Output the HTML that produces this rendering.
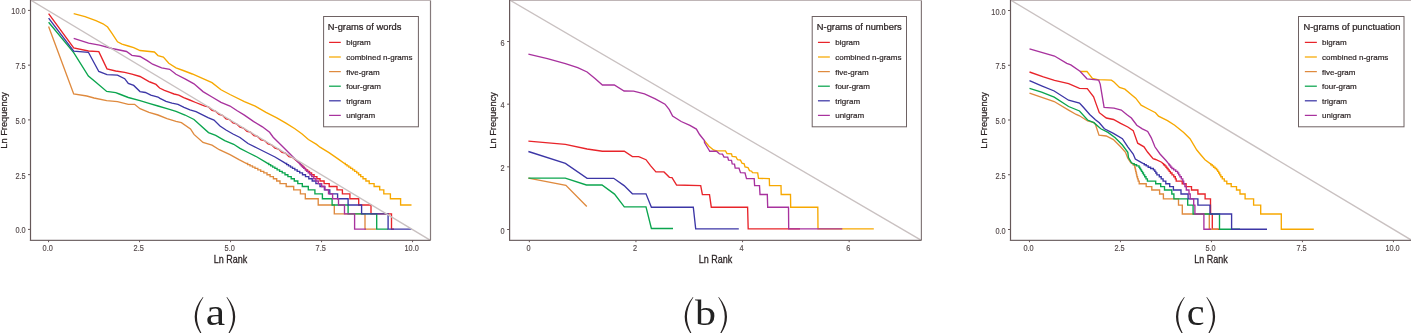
<!DOCTYPE html>
<html><head><meta charset="utf-8"><style>
html,body{margin:0;padding:0;background:#fff;width:1411px;height:333px;overflow:hidden}
svg{display:block;will-change:transform}
text{font-family:"Liberation Sans",sans-serif}
.tk{font-size:8px;fill:#554a4b;stroke:#554a4b;stroke-width:0.15px}
.at{font-size:9px;fill:#2e2627;stroke:#2e2627;stroke-width:0.25px}
.lt{font-size:9px;fill:#2e2627;stroke:#2e2627;stroke-width:0.25px}
.li{font-size:8px;fill:#2e2627;stroke:#2e2627;stroke-width:0.2px}
.cap{font-family:"Liberation Serif",serif;font-size:40px;fill:#222;}
</style></head><body>
<svg width="1411" height="333" viewBox="0 0 1411 333">
<polyline points="48.6,13.7 73.7,48.0 88.4,51.0 98.8,51.7 107.0,68.8 115.7,71.0 124.7,72.4 131.9,74.2 140.0,76.5 149.0,81.7 150.0,82.0 156.0,84.4 159.6,88.0 164.4,90.4 169.2,92.2 174.0,94.0 178.8,95.2 183.7,97.6 189.7,100.0 195.7,102.5 201.7,104.9 205.0,106.1 208.5,106.9 212.0,110.3 215.5,111.2 219.0,114.5 222.5,115.3 226.0,118.8 229.5,119.6 233.0,123.0 236.5,123.8 240.0,127.2 243.5,128.0 247.0,131.4 250.5,132.2 254.0,135.6 257.5,136.4 261.0,139.8 264.5,140.6 268.0,144.0 271.5,144.8 275.0,148.2 278.5,149.0 282.0,152.4 285.5,153.2 289.0,156.6 292.5,157.4 299.0,162.6 299.9,163.5 300.5,163.5 300.5,164.6 301.7,164.6 301.7,165.8 302.9,165.8 302.9,167.1 304.2,167.1 304.2,168.4 305.7,168.4 305.7,169.8 307.6,169.8 307.6,171.3 309.5,171.3 309.5,172.9 311.6,172.9 311.6,174.7 314.1,174.7 314.1,176.6 316.9,176.6 316.9,178.7 320.0,178.7 320.0,181.0 324.1,181.0 324.1,183.6 329.2,183.6 329.2,186.5 337.0,186.5 337.0,189.9 342.4,189.9 342.4,193.9 349.9,193.9 349.9,198.7 358.7,198.7 358.7,205.0 371.0,205.0 371.0,213.9 391.5,213.9 391.5,229.1 394.0,229.1" fill="none" stroke="#e8242a" stroke-width="1.35" stroke-linejoin="miter" stroke-linecap="butt"/>
<polyline points="73.7,13.7 85.0,16.6 95.9,20.7 103.0,23.8 107.6,27.0 112.0,33.3 117.5,41.8 122.0,44.1 128.3,46.0 133.7,47.7 140.0,50.5 154.4,52.0 158.0,55.6 163.4,57.0 168.8,63.3 176.0,67.8 183.2,70.5 192.3,74.0 201.3,77.8 212.0,82.6 221.0,89.8 230.0,94.5 244.4,101.6 255.2,106.1 266.0,112.4 276.8,117.8 285.9,123.2 294.9,128.8 302.1,134.0 308.4,139.5 316.5,144.4 320.0,147.2 329.0,152.6 338.0,158.9 344.6,163.5 345.4,163.5 345.4,164.6 347.0,164.6 347.0,165.8 348.8,165.8 348.8,167.1 350.6,167.1 350.6,168.4 352.6,168.4 352.6,169.8 354.6,169.8 354.6,171.3 356.7,171.3 356.7,172.9 358.6,172.9 358.6,174.7 360.7,174.7 360.7,176.6 363.0,176.6 363.0,178.7 365.9,178.7 365.9,181.0 369.2,181.0 369.2,183.6 374.1,183.6 374.1,186.5 379.7,186.5 379.7,189.9 383.8,189.9 383.8,193.9 390.4,193.9 390.4,198.7 400.6,198.7 400.6,205.0 411.5,205.0" fill="none" stroke="#f7a800" stroke-width="1.35" stroke-linejoin="miter" stroke-linecap="butt"/>
<polyline points="48.6,26.5 73.7,94.0 86.8,96.0 94.0,98.0 106.7,100.7 117.5,101.6 128.3,104.3 134.6,104.3 140.0,108.7 149.0,112.3 158.0,115.0 167.0,118.6 176.0,121.4 181.4,122.7 190.5,129.0 194.0,134.4 203.0,142.5 212.0,145.2 219.3,149.7 230.0,154.7 239.0,159.7 246.6,163.5 247.7,163.5 247.7,164.6 250.0,164.6 250.0,165.8 252.5,165.8 252.5,167.1 255.0,167.1 255.0,168.4 257.8,168.4 257.8,169.8 260.7,169.8 260.7,171.3 263.8,171.3 263.8,172.9 267.0,172.9 267.0,174.7 270.1,174.7 270.1,176.6 273.4,176.6 273.4,178.7 276.7,178.7 276.7,181.0 280.0,181.0 280.0,183.6 286.2,183.6 286.2,186.5 293.7,186.5 293.7,189.9 300.4,189.9 300.4,193.9 305.3,193.9 305.3,198.7 318.2,198.7 318.2,205.0 334.3,205.0 334.3,213.9 365.0,213.9 365.0,229.1 376.3,229.1" fill="none" stroke="#df8a3e" stroke-width="1.35" stroke-linejoin="miter" stroke-linecap="butt"/>
<polyline points="48.6,22.3 73.7,52.6 88.4,76.0 95.9,82.3 106.7,91.4 115.7,92.6 119.3,94.0 128.3,97.5 140.0,100.6 149.0,103.3 158.0,106.0 167.0,108.7 176.0,111.4 185.0,115.0 194.0,119.5 199.5,124.5 208.5,132.6 215.7,135.3 224.7,140.7 233.7,144.3 240.0,148.4 248.0,152.5 257.0,157.0 266.0,162.4 267.8,163.5 268.8,163.5 268.8,164.6 270.7,164.6 270.7,165.8 272.7,165.8 272.7,167.1 274.9,167.1 274.9,168.4 277.1,168.4 277.1,169.8 279.6,169.8 279.6,171.3 282.2,171.3 282.2,172.9 285.0,172.9 285.0,174.7 287.9,174.7 287.9,176.6 291.2,176.6 291.2,178.7 294.3,178.7 294.3,181.0 297.8,181.0 297.8,183.6 302.3,183.6 302.3,186.5 308.3,186.5 308.3,189.9 314.9,189.9 314.9,193.9 322.4,193.9 322.4,198.7 332.1,198.7 332.1,205.0 348.1,205.0 348.1,213.9 376.7,213.9 376.7,229.1 388.0,229.1" fill="none" stroke="#0ba54e" stroke-width="1.35" stroke-linejoin="miter" stroke-linecap="butt"/>
<polyline points="48.6,18.2 73.7,51.2 88.4,52.3 98.8,71.5 107.0,74.6 117.5,75.1 124.7,78.7 128.3,83.5 133.7,85.4 140.0,91.6 145.4,92.5 150.8,95.2 158.0,97.0 160.0,98.4 166.0,101.4 172.0,103.2 178.0,104.4 184.0,107.4 190.0,109.8 196.0,111.6 202.0,114.6 208.0,117.6 214.0,120.0 220.0,126.0 226.0,130.0 233.0,134.0 240.0,137.5 248.0,143.5 257.0,148.0 266.0,152.5 275.0,157.0 284.0,162.4 285.8,163.5 286.7,163.5 286.7,164.6 288.5,164.6 288.5,165.8 290.5,165.8 290.5,167.1 292.5,167.1 292.5,168.4 294.8,168.4 294.8,169.8 297.2,169.8 297.2,171.3 299.7,171.3 299.7,172.9 302.5,172.9 302.5,174.7 305.5,174.7 305.5,176.6 308.8,176.6 308.8,178.7 312.2,178.7 312.2,181.0 315.9,181.0 315.9,183.6 320.0,183.6 320.0,186.5 324.4,186.5 324.4,189.9 329.8,189.9 329.8,193.9 337.6,193.9 337.6,198.7 348.1,198.7 348.1,205.0 361.6,205.0 361.6,213.9 388.1,213.9 388.1,229.1 411.5,229.1" fill="none" stroke="#3c36a6" stroke-width="1.35" stroke-linejoin="miter" stroke-linecap="butt"/>
<polyline points="73.7,38.3 88.6,43.2 99.5,45.2 112.0,48.5 126.5,51.5 131.9,55.3 140.0,56.5 147.2,60.6 152.6,64.2 161.6,67.8 169.7,69.3 176.0,74.3 185.0,78.8 194.0,83.8 203.0,91.6 212.0,97.0 221.0,102.4 230.0,106.0 237.2,110.8 244.4,115.1 253.4,121.4 262.4,126.8 269.6,132.3 273.2,137.2 282.3,146.2 291.3,155.2 298.5,162.4 299.6,163.5 300.2,163.5 300.2,164.6 301.3,164.6 301.3,165.8 302.5,165.8 302.5,167.1 303.8,167.1 303.8,168.4 305.2,168.4 305.2,169.8 306.6,169.8 306.6,171.3 308.2,171.3 308.2,172.9 309.9,172.9 309.9,174.7 311.7,174.7 311.7,176.6 313.7,176.6 313.7,178.7 315.9,178.7 315.9,181.0 318.3,181.0 318.3,183.6 321.7,183.6 321.7,186.5 325.0,186.5 325.0,189.9 328.5,189.9 328.5,193.9 332.6,193.9 332.6,198.7 338.5,198.7 338.5,205.0 344.5,205.0 344.5,213.9 354.6,213.9 354.6,229.1 366.0,229.1" fill="none" stroke="#a8329e" stroke-width="1.35" stroke-linejoin="miter" stroke-linecap="butt"/>
<line x1="30.5" y1="0.0" x2="430.5" y2="240.3" stroke="#c9c1c1" stroke-width="1.4"/>
<line x1="30.5" y1="0.5" x2="430.5" y2="0.5" stroke="#bfb5b6" stroke-width="1"/>
<line x1="430.5" y1="0.5" x2="430.5" y2="240.3" stroke="#857a7b" stroke-width="1.2"/>
<line x1="30.5" y1="0.0" x2="30.5" y2="240.9" stroke="#665859" stroke-width="1.2"/>
<line x1="29.9" y1="240.3" x2="430.5" y2="240.3" stroke="#756a6b" stroke-width="1.2"/>
<line x1="28.0" y1="229.40" x2="30.5" y2="229.40" stroke="#665859" stroke-width="1"/>
<text transform="translate(25.60,233.40) scale(0.92,1.16)" text-anchor="end" class="tk">0.0</text>
<line x1="48.55" y1="240.3" x2="48.55" y2="242.20000000000002" stroke="#665859" stroke-width="1"/>
<text transform="translate(47.65,250.80) scale(0.92,1.16)" text-anchor="middle" class="tk">0.0</text>
<line x1="28.0" y1="174.65" x2="30.5" y2="174.65" stroke="#665859" stroke-width="1"/>
<text transform="translate(25.60,178.65) scale(0.92,1.16)" text-anchor="end" class="tk">2.5</text>
<line x1="139.55" y1="240.3" x2="139.55" y2="242.20000000000002" stroke="#665859" stroke-width="1"/>
<text transform="translate(138.65,250.80) scale(0.92,1.16)" text-anchor="middle" class="tk">2.5</text>
<line x1="28.0" y1="119.90" x2="30.5" y2="119.90" stroke="#665859" stroke-width="1"/>
<text transform="translate(25.60,123.90) scale(0.92,1.16)" text-anchor="end" class="tk">5.0</text>
<line x1="230.55" y1="240.3" x2="230.55" y2="242.20000000000002" stroke="#665859" stroke-width="1"/>
<text transform="translate(229.65,250.80) scale(0.92,1.16)" text-anchor="middle" class="tk">5.0</text>
<line x1="28.0" y1="65.15" x2="30.5" y2="65.15" stroke="#665859" stroke-width="1"/>
<text transform="translate(25.60,69.15) scale(0.92,1.16)" text-anchor="end" class="tk">7.5</text>
<line x1="321.55" y1="240.3" x2="321.55" y2="242.20000000000002" stroke="#665859" stroke-width="1"/>
<text transform="translate(320.65,250.80) scale(0.92,1.16)" text-anchor="middle" class="tk">7.5</text>
<line x1="28.0" y1="10.40" x2="30.5" y2="10.40" stroke="#665859" stroke-width="1"/>
<text transform="translate(25.60,14.40) scale(0.92,1.16)" text-anchor="end" class="tk">10.0</text>
<line x1="412.55" y1="240.3" x2="412.55" y2="242.20000000000002" stroke="#665859" stroke-width="1"/>
<text transform="translate(411.65,250.80) scale(0.92,1.16)" text-anchor="middle" class="tk">10.0</text>
<text transform="translate(230.50,262.50) scale(1.0,1.17)" text-anchor="middle" class="at">Ln Rank</text>
<text transform="translate(7.30,120.40) rotate(-90) scale(1.03,0.96)" text-anchor="middle" class="at">Ln Frequency</text>
<rect x="323.6" y="16.5" width="94.8" height="110.3" fill="#fff" stroke="#6e6263" stroke-width="1"/>
<text transform="translate(327.80,30.00) scale(1.037,1.0)" class="lt">N-grams of words</text>
<line x1="329.05" y1="42.4" x2="340.80" y2="42.4" stroke="#e8242a" stroke-width="1.25"/>
<text transform="translate(346.20,45.30)" class="li">bigram</text>
<line x1="329.05" y1="57.0" x2="340.80" y2="57.0" stroke="#f7a800" stroke-width="1.25"/>
<text transform="translate(346.20,59.90)" class="li">combined n-grams</text>
<line x1="329.05" y1="71.6" x2="340.80" y2="71.6" stroke="#df8a3e" stroke-width="1.25"/>
<text transform="translate(346.20,74.50)" class="li">five-gram</text>
<line x1="329.05" y1="86.2" x2="340.80" y2="86.2" stroke="#0ba54e" stroke-width="1.25"/>
<text transform="translate(346.20,89.10)" class="li">four-gram</text>
<line x1="329.05" y1="100.8" x2="340.80" y2="100.8" stroke="#3c36a6" stroke-width="1.25"/>
<text transform="translate(346.20,103.70)" class="li">trigram</text>
<line x1="329.05" y1="115.4" x2="340.80" y2="115.4" stroke="#a8329e" stroke-width="1.25"/>
<text transform="translate(346.20,118.30)" class="li">unigram</text>
<polyline points="528.4,141.2 565.4,144.3 587.1,149.0 602.4,151.2 624.3,151.2 632.4,156.6 638.7,156.6 646.0,159.7 650.5,165.6 655.9,171.9 664.0,171.9 669.4,177.3 672.0,177.7 676.6,185.0 700.7,185.6 702.4,194.6 709.5,194.6 711.3,207.2 747.6,207.2 748.2,228.9 800.0,228.9" fill="none" stroke="#e8242a" stroke-width="1.35" stroke-linejoin="miter" stroke-linecap="butt"/>
<polyline points="704.4,140.6 709.0,146.2 713.5,150.0 716.5,150.9 725.5,150.9 727.0,153.5 731.5,153.9 732.2,156.5 736.0,156.9 737.5,159.7 740.5,160.1 742.0,163.2 744.2,163.8 745.0,167.0 748.0,167.5 749.5,170.6 751.7,171.2 752.5,172.7 757.7,172.9 758.5,178.3 769.3,178.6 769.5,185.6 781.0,185.6 781.2,194.5 790.5,194.5 790.7,207.2 817.8,207.2 818.0,228.9 873.8,228.9" fill="none" stroke="#f7a800" stroke-width="1.35" stroke-linejoin="miter" stroke-linecap="butt"/>
<polyline points="528.4,178.1 565.9,185.3 586.8,206.5" fill="none" stroke="#df8a3e" stroke-width="1.35" stroke-linejoin="miter" stroke-linecap="butt"/>
<polyline points="528.4,178.1 565.3,178.1 586.4,185.0 602.0,185.0 614.5,194.1 624.3,206.8 646.0,206.8 651.4,228.5 673.0,228.5" fill="none" stroke="#0ba54e" stroke-width="1.35" stroke-linejoin="miter" stroke-linecap="butt"/>
<polyline points="528.4,151.5 565.4,163.4 587.1,178.3 613.7,178.3 624.1,185.6 632.4,193.8 646.0,193.8 651.4,207.2 693.3,207.2 695.7,228.9 738.8,228.9" fill="none" stroke="#3c36a6" stroke-width="1.35" stroke-linejoin="miter" stroke-linecap="butt"/>
<polyline points="528.4,54.1 547.4,58.6 565.4,63.6 577.7,67.7 587.1,72.0 595.0,78.5 602.4,85.0 614.3,85.0 624.1,91.0 633.6,91.2 644.5,93.8 655.3,98.8 665.0,104.2 669.3,109.6 672.6,116.1 681.2,121.5 689.9,125.4 696.4,129.1 699.6,134.5 704.4,140.6 704.5,142.5 709.0,150.0 709.7,151.2 716.5,151.2 719.5,153.9 722.5,154.2 724.0,157.0 727.7,157.2 728.5,160.2 731.5,160.4 732.2,163.9 734.5,164.1 735.2,168.0 739.0,168.2 740.5,172.6 745.0,172.8 746.5,178.6 754.2,178.6 754.6,185.6 759.5,185.6 760.0,194.5 767.3,194.5 767.7,207.2 788.5,207.2 788.7,228.9 842.3,228.9" fill="none" stroke="#a8329e" stroke-width="1.35" stroke-linejoin="miter" stroke-linecap="butt"/>
<line x1="509.6" y1="0.0" x2="921.4" y2="240.3" stroke="#c9c1c1" stroke-width="1.4"/>
<line x1="509.6" y1="0.5" x2="921.4" y2="0.5" stroke="#bfb5b6" stroke-width="1"/>
<line x1="921.4" y1="0.5" x2="921.4" y2="240.3" stroke="#857a7b" stroke-width="1.2"/>
<line x1="509.6" y1="0.0" x2="509.6" y2="240.9" stroke="#665859" stroke-width="1.2"/>
<line x1="509.0" y1="240.3" x2="921.4" y2="240.3" stroke="#756a6b" stroke-width="1.2"/>
<line x1="507.1" y1="229.50" x2="509.6" y2="229.50" stroke="#665859" stroke-width="1"/>
<text transform="translate(504.70,233.50) scale(0.92,1.16)" text-anchor="end" class="tk">0</text>
<line x1="529.35" y1="240.3" x2="529.35" y2="242.20000000000002" stroke="#665859" stroke-width="1"/>
<text transform="translate(528.45,250.80) scale(0.92,1.16)" text-anchor="middle" class="tk">0</text>
<line x1="507.1" y1="166.84" x2="509.6" y2="166.84" stroke="#665859" stroke-width="1"/>
<text transform="translate(504.70,170.84) scale(0.92,1.16)" text-anchor="end" class="tk">2</text>
<line x1="635.95" y1="240.3" x2="635.95" y2="242.20000000000002" stroke="#665859" stroke-width="1"/>
<text transform="translate(635.05,250.80) scale(0.92,1.16)" text-anchor="middle" class="tk">2</text>
<line x1="507.1" y1="104.18" x2="509.6" y2="104.18" stroke="#665859" stroke-width="1"/>
<text transform="translate(504.70,108.18) scale(0.92,1.16)" text-anchor="end" class="tk">4</text>
<line x1="742.55" y1="240.3" x2="742.55" y2="242.20000000000002" stroke="#665859" stroke-width="1"/>
<text transform="translate(741.65,250.80) scale(0.92,1.16)" text-anchor="middle" class="tk">4</text>
<line x1="507.1" y1="41.52" x2="509.6" y2="41.52" stroke="#665859" stroke-width="1"/>
<text transform="translate(504.70,45.52) scale(0.92,1.16)" text-anchor="end" class="tk">6</text>
<line x1="849.15" y1="240.3" x2="849.15" y2="242.20000000000002" stroke="#665859" stroke-width="1"/>
<text transform="translate(848.25,250.80) scale(0.92,1.16)" text-anchor="middle" class="tk">6</text>
<text transform="translate(715.50,262.50) scale(1.0,1.17)" text-anchor="middle" class="at">Ln Rank</text>
<text transform="translate(495.50,120.40) rotate(-90) scale(1.03,0.96)" text-anchor="middle" class="at">Ln Frequency</text>
<rect x="812.2" y="16.5" width="94.3" height="110.3" fill="#fff" stroke="#6e6263" stroke-width="1"/>
<text transform="translate(816.80,30.00) scale(1.037,1.0)" class="lt">N-grams of numbers</text>
<line x1="817.95" y1="42.4" x2="829.85" y2="42.4" stroke="#e8242a" stroke-width="1.25"/>
<text transform="translate(835.20,45.30)" class="li">bigram</text>
<line x1="817.95" y1="57.0" x2="829.85" y2="57.0" stroke="#f7a800" stroke-width="1.25"/>
<text transform="translate(835.20,59.90)" class="li">combined n-grams</text>
<line x1="817.95" y1="71.6" x2="829.85" y2="71.6" stroke="#df8a3e" stroke-width="1.25"/>
<text transform="translate(835.20,74.50)" class="li">five-gram</text>
<line x1="817.95" y1="86.2" x2="829.85" y2="86.2" stroke="#0ba54e" stroke-width="1.25"/>
<text transform="translate(835.20,89.10)" class="li">four-gram</text>
<line x1="817.95" y1="100.8" x2="829.85" y2="100.8" stroke="#3c36a6" stroke-width="1.25"/>
<text transform="translate(835.20,103.70)" class="li">trigram</text>
<line x1="817.95" y1="115.4" x2="829.85" y2="115.4" stroke="#a8329e" stroke-width="1.25"/>
<text transform="translate(835.20,118.30)" class="li">unigram</text>
<polyline points="1029.5,72.0 1043.4,76.8 1054.5,80.3 1068.6,83.7 1079.5,88.4 1087.3,88.6 1093.6,96.8 1096.0,103.6 1099.3,112.7 1106.3,118.0 1113.5,119.5 1120.6,123.4 1127.8,127.0 1133.2,130.6 1137.7,143.2 1144.0,146.8 1147.7,152.3 1153.1,158.6 1155.6,159.5 1161.6,162.2 1163.0,163.6 1163.6,163.6 1163.6,164.7 1164.8,164.7 1164.8,165.9 1166.0,165.9 1166.0,167.2 1167.0,167.2 1167.0,168.5 1168.1,168.5 1168.1,169.9 1169.2,169.9 1169.2,171.4 1170.4,171.4 1170.4,173.0 1172.0,173.0 1172.0,174.8 1173.8,174.8 1173.8,176.7 1175.3,176.7 1175.3,178.8 1176.2,178.8 1176.2,181.1 1182.2,181.1 1182.2,183.7 1186.1,183.7 1186.1,186.6 1191.5,186.6 1191.5,190.0 1197.9,190.0 1197.9,194.0 1205.1,194.0 1205.1,198.8 1210.5,198.8 1210.5,205.1 1210.6,205.1 1210.6,214.0 1212.3,214.0 1212.3,229.2 1220.0,229.2" fill="none" stroke="#e8242a" stroke-width="1.35" stroke-linejoin="miter" stroke-linecap="butt"/>
<polyline points="1080.0,71.3 1081.3,71.5 1087.0,71.5 1092.4,78.4 1097.8,79.7 1111.4,80.2 1114.0,82.0 1119.5,87.4 1124.9,89.2 1130.3,93.7 1135.7,98.2 1141.1,105.2 1148.3,109.0 1155.5,112.7 1158.5,116.2 1167.5,120.7 1174.7,125.2 1183.7,132.4 1190.0,138.7 1196.8,150.0 1200.5,154.5 1205.0,159.8 1210.1,163.6 1210.8,163.6 1210.8,164.7 1212.2,164.7 1212.2,165.9 1213.6,165.9 1213.6,167.2 1215.1,167.2 1215.1,168.5 1216.6,168.5 1216.6,169.9 1217.7,169.9 1217.7,171.4 1218.7,171.4 1218.7,173.0 1219.7,173.0 1219.7,174.8 1220.8,174.8 1220.8,176.7 1222.3,176.7 1222.3,178.8 1224.3,178.8 1224.3,181.1 1226.8,181.1 1226.8,183.7 1231.2,183.7 1231.2,186.6 1236.5,186.6 1236.5,190.0 1240.0,190.0 1240.0,194.0 1245.1,194.0 1245.1,198.8 1253.6,198.8 1253.6,205.1 1260.7,205.1 1260.7,214.0 1281.3,214.0 1281.3,229.2 1313.8,229.2" fill="none" stroke="#f7a800" stroke-width="1.35" stroke-linejoin="miter" stroke-linecap="butt"/>
<polyline points="1029.5,93.2 1054.2,101.5 1068.6,110.1 1076.2,114.5 1079.5,115.8 1087.6,121.0 1093.9,122.7 1095.4,124.3 1099.0,135.1 1106.2,136.0 1113.4,139.6 1120.6,146.8 1125.5,152.3 1127.8,158.3 1130.8,162.8 1132.1,163.6 1133.1,163.6 1133.1,164.7 1134.6,164.7 1134.6,165.9 1134.8,165.9 1134.8,167.2 1135.1,167.2 1135.1,168.5 1135.4,168.5 1135.4,169.9 1135.7,169.9 1135.7,171.4 1136.1,171.4 1136.1,173.0 1136.5,173.0 1136.5,174.8 1136.9,174.8 1136.9,176.7 1137.5,176.7 1137.5,178.8 1138.2,178.8 1138.2,181.1 1139.2,181.1 1139.2,183.7 1146.2,183.7 1146.2,186.6 1151.8,186.6 1151.8,190.0 1159.6,190.0 1159.6,194.0 1163.4,194.0 1163.4,198.8 1178.5,198.8 1178.5,205.1 1182.3,205.1 1182.3,214.0 1209.3,214.0 1209.3,229.2 1218.3,229.2" fill="none" stroke="#df8a3e" stroke-width="1.35" stroke-linejoin="miter" stroke-linecap="butt"/>
<polyline points="1029.5,88.3 1041.6,92.1 1054.2,97.2 1068.6,106.5 1079.5,111.0 1087.6,120.0 1093.9,122.7 1100.8,128.8 1108.0,132.4 1115.2,137.8 1122.4,145.0 1127.8,152.3 1128.5,157.5 1131.5,162.8 1133.1,163.6 1134.2,163.6 1134.2,164.7 1136.6,164.7 1136.6,165.9 1139.0,165.9 1139.0,167.2 1139.8,167.2 1139.8,168.5 1140.6,168.5 1140.6,169.9 1141.5,169.9 1141.5,171.4 1142.5,171.4 1142.5,173.0 1143.5,173.0 1143.5,174.8 1144.7,174.8 1144.7,176.7 1146.0,176.7 1146.0,178.8 1147.4,178.8 1147.4,181.1 1155.7,181.1 1155.7,183.7 1160.7,183.7 1160.7,186.6 1164.5,186.6 1164.5,190.0 1171.8,190.0 1171.8,194.0 1173.9,194.0 1173.9,198.8 1187.7,198.8 1187.7,205.1 1193.1,205.1 1193.1,214.0 1219.5,214.0 1219.5,229.2 1240.0,229.2" fill="none" stroke="#0ba54e" stroke-width="1.35" stroke-linejoin="miter" stroke-linecap="butt"/>
<polyline points="1029.5,80.6 1041.6,85.8 1054.2,91.0 1068.6,100.2 1079.5,103.0 1083.4,107.3 1089.7,114.5 1095.4,119.8 1099.3,122.7 1104.4,128.8 1113.4,133.3 1122.4,138.7 1127.8,146.8 1133.2,154.1 1135.3,159.0 1142.0,162.8 1143.3,163.6 1144.3,163.6 1144.3,164.7 1146.2,164.7 1146.2,165.9 1148.2,165.9 1148.2,167.2 1150.6,167.2 1150.6,168.5 1153.4,168.5 1153.4,169.9 1154.8,169.9 1154.8,171.4 1155.8,171.4 1155.8,173.0 1156.9,173.0 1156.9,174.8 1159.3,174.8 1159.3,176.7 1161.2,176.7 1161.2,178.8 1163.1,178.8 1163.1,181.1 1165.8,181.1 1165.8,183.7 1169.7,183.7 1169.7,186.6 1173.4,186.6 1173.4,190.0 1181.0,190.0 1181.0,194.0 1188.1,194.0 1188.1,198.8 1197.9,198.8 1197.9,205.1 1210.0,205.1 1210.0,214.0 1231.6,214.0 1231.6,229.2 1267.0,229.2" fill="none" stroke="#3c36a6" stroke-width="1.35" stroke-linejoin="miter" stroke-linecap="butt"/>
<polyline points="1029.5,48.8 1054.5,56.0 1066.8,63.3 1070.8,64.9 1080.0,71.3 1087.0,78.8 1098.7,80.2 1100.2,84.1 1104.1,107.3 1114.0,108.2 1121.3,110.0 1126.7,114.5 1131.4,118.0 1136.8,125.2 1142.3,128.8 1147.7,131.5 1151.3,137.8 1154.9,146.8 1160.0,154.0 1166.0,160.5 1168.5,163.6 1168.9,163.6 1168.9,164.7 1169.8,164.7 1169.8,165.9 1170.8,165.9 1170.8,167.2 1171.9,167.2 1171.9,168.5 1173.7,168.5 1173.7,169.9 1175.7,169.9 1175.7,171.4 1177.6,171.4 1177.6,173.0 1178.7,173.0 1178.7,174.8 1179.9,174.8 1179.9,176.7 1181.3,176.7 1181.3,178.8 1182.8,178.8 1182.8,181.1 1183.7,181.1 1183.7,183.7 1184.9,183.7 1184.9,186.6 1186.3,186.6 1186.3,190.0 1189.0,190.0 1189.0,194.0 1190.2,194.0 1190.2,198.8 1193.7,198.8 1193.7,205.1 1194.9,205.1 1194.9,214.0 1203.9,214.0 1203.9,229.2 1211.0,229.2" fill="none" stroke="#a8329e" stroke-width="1.35" stroke-linejoin="miter" stroke-linecap="butt"/>
<line x1="1010.5" y1="0.0" x2="1411.6" y2="240.3" stroke="#c9c1c1" stroke-width="1.4"/>
<line x1="1010.5" y1="0.5" x2="1411.6" y2="0.5" stroke="#bfb5b6" stroke-width="1"/>
<line x1="1411.6" y1="0.5" x2="1411.6" y2="240.3" stroke="#857a7b" stroke-width="1.2"/>
<line x1="1010.5" y1="0.0" x2="1010.5" y2="240.9" stroke="#665859" stroke-width="1.2"/>
<line x1="1009.9" y1="240.3" x2="1411.6" y2="240.3" stroke="#756a6b" stroke-width="1.2"/>
<line x1="1008.0" y1="229.50" x2="1010.5" y2="229.50" stroke="#665859" stroke-width="1"/>
<text transform="translate(1005.60,233.50) scale(0.92,1.16)" text-anchor="end" class="tk">0.0</text>
<line x1="1029.45" y1="240.3" x2="1029.45" y2="242.20000000000002" stroke="#665859" stroke-width="1"/>
<text transform="translate(1028.55,250.80) scale(0.92,1.16)" text-anchor="middle" class="tk">0.0</text>
<line x1="1008.0" y1="174.75" x2="1010.5" y2="174.75" stroke="#665859" stroke-width="1"/>
<text transform="translate(1005.60,178.75) scale(0.92,1.16)" text-anchor="end" class="tk">2.5</text>
<line x1="1120.45" y1="240.3" x2="1120.45" y2="242.20000000000002" stroke="#665859" stroke-width="1"/>
<text transform="translate(1119.55,250.80) scale(0.92,1.16)" text-anchor="middle" class="tk">2.5</text>
<line x1="1008.0" y1="120.00" x2="1010.5" y2="120.00" stroke="#665859" stroke-width="1"/>
<text transform="translate(1005.60,124.00) scale(0.92,1.16)" text-anchor="end" class="tk">5.0</text>
<line x1="1211.45" y1="240.3" x2="1211.45" y2="242.20000000000002" stroke="#665859" stroke-width="1"/>
<text transform="translate(1210.55,250.80) scale(0.92,1.16)" text-anchor="middle" class="tk">5.0</text>
<line x1="1008.0" y1="65.25" x2="1010.5" y2="65.25" stroke="#665859" stroke-width="1"/>
<text transform="translate(1005.60,69.25) scale(0.92,1.16)" text-anchor="end" class="tk">7.5</text>
<line x1="1302.45" y1="240.3" x2="1302.45" y2="242.20000000000002" stroke="#665859" stroke-width="1"/>
<text transform="translate(1301.55,250.80) scale(0.92,1.16)" text-anchor="middle" class="tk">7.5</text>
<line x1="1008.0" y1="10.50" x2="1010.5" y2="10.50" stroke="#665859" stroke-width="1"/>
<text transform="translate(1005.60,14.50) scale(0.92,1.16)" text-anchor="end" class="tk">10.0</text>
<line x1="1393.45" y1="240.3" x2="1393.45" y2="242.20000000000002" stroke="#665859" stroke-width="1"/>
<text transform="translate(1392.55,250.80) scale(0.92,1.16)" text-anchor="middle" class="tk">10.0</text>
<text transform="translate(1211.05,262.50) scale(1.0,1.17)" text-anchor="middle" class="at">Ln Rank</text>
<text transform="translate(987.30,120.40) rotate(-90) scale(1.03,0.96)" text-anchor="middle" class="at">Ln Frequency</text>
<rect x="1298.5" y="16.5" width="105.5" height="110.3" fill="#fff" stroke="#6e6263" stroke-width="1"/>
<text transform="translate(1303.50,30.00) scale(1.037,1.0)" class="lt">N-grams of punctuation</text>
<line x1="1304.85" y1="42.4" x2="1316.85" y2="42.4" stroke="#e8242a" stroke-width="1.25"/>
<text transform="translate(1322.10,45.30)" class="li">bigram</text>
<line x1="1304.85" y1="57.0" x2="1316.85" y2="57.0" stroke="#f7a800" stroke-width="1.25"/>
<text transform="translate(1322.10,59.90)" class="li">combined n-grams</text>
<line x1="1304.85" y1="71.6" x2="1316.85" y2="71.6" stroke="#df8a3e" stroke-width="1.25"/>
<text transform="translate(1322.10,74.50)" class="li">five-gram</text>
<line x1="1304.85" y1="86.2" x2="1316.85" y2="86.2" stroke="#0ba54e" stroke-width="1.25"/>
<text transform="translate(1322.10,89.10)" class="li">four-gram</text>
<line x1="1304.85" y1="100.8" x2="1316.85" y2="100.8" stroke="#3c36a6" stroke-width="1.25"/>
<text transform="translate(1322.10,103.70)" class="li">trigram</text>
<line x1="1304.85" y1="115.4" x2="1316.85" y2="115.4" stroke="#a8329e" stroke-width="1.25"/>
<text transform="translate(1322.10,118.30)" class="li">unigram</text>
<path d="M202.90,297.00 Q186.50,316.80 202.90,336.60 L203.40,336.30 Q190.50,316.80 203.40,297.30 Z" fill="#262222"/>
<path d="M227.00,297.00 Q243.40,316.80 227.00,336.60 L226.50,336.30 Q239.40,316.80 226.50,297.30 Z" fill="#262222"/>
<text transform="translate(205.8,324.7) scale(1.09,0.97)" class="cap">a</text>
<path d="M692.90,297.00 Q676.50,316.80 692.90,336.60 L693.40,336.30 Q680.50,316.80 693.40,297.30 Z" fill="#262222"/>
<path d="M718.80,297.00 Q735.20,316.80 718.80,336.60 L718.30,336.30 Q731.20,316.80 718.30,297.30 Z" fill="#262222"/>
<text transform="translate(694.9,324.7) scale(1.05,0.91)" class="cap">b</text>
<path d="M1184.20,297.00 Q1167.80,316.80 1184.20,336.60 L1184.70,336.30 Q1171.80,316.80 1184.70,297.30 Z" fill="#262222"/>
<path d="M1206.90,297.00 Q1223.30,316.80 1206.90,336.60 L1206.40,336.30 Q1219.30,316.80 1206.40,297.30 Z" fill="#262222"/>
<text transform="translate(1186.7,324.7) scale(1.0,0.95)" class="cap">c</text>
</svg>
</body></html>
